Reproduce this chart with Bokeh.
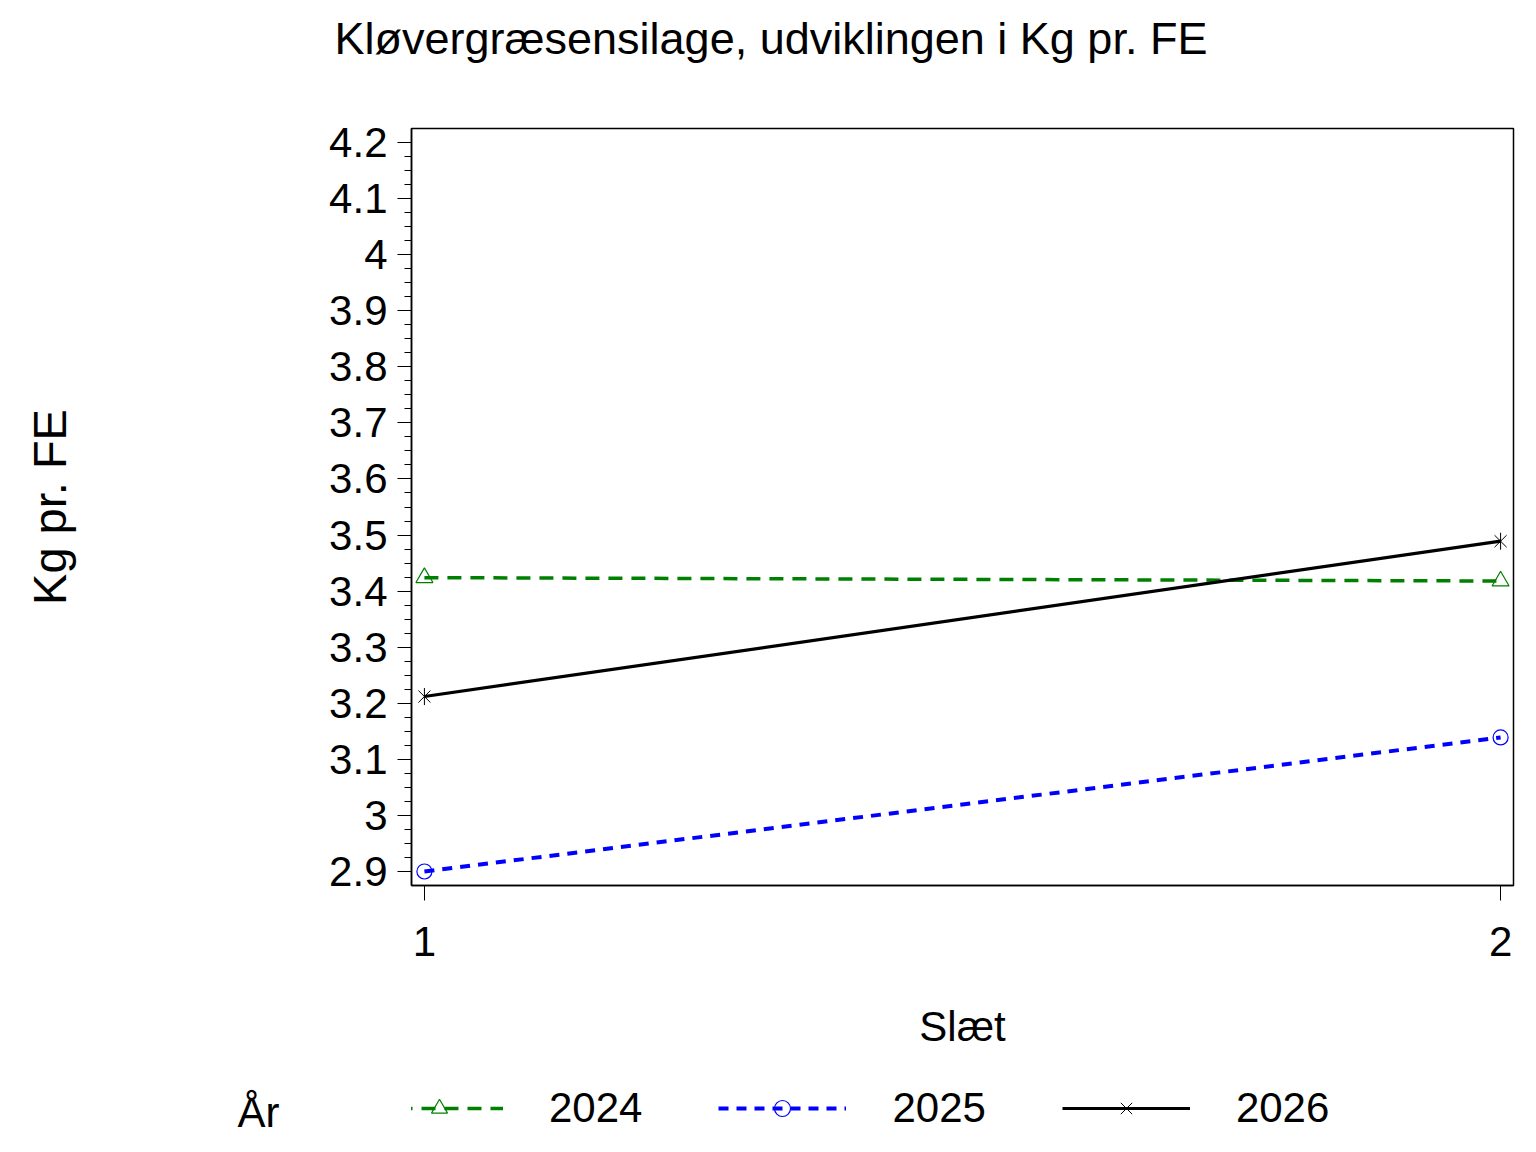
from bokeh.plotting import figure
from bokeh.layouts import column
from bokeh.models import Range1d, FixedTicker, Legend, LegendItem, Title
from bokeh.embed import file_html
from bokeh.resources import INLINE

# ---- data ----
SLAET = [1, 2]
AAR = ["2024", "2025", "2026"]
KG_2024 = [3.424, 3.418]
KG_2025 = [2.900, 3.139]
KG_2026 = [3.212, 3.489]

Y_TICKS = [2.9, 3, 3.1, 3.2, 3.3, 3.4, 3.5, 3.6, 3.7, 3.8, 3.9, 4, 4.1, 4.2]
Y_TICK_LABELS = ["2.9", "3", "3.1", "3.2", "3.3", "3.4", "3.5", "3.6", "3.7",
                 "3.8", "3.9", "4", "4.1", "4.2"]
X_TICKS = [1, 2]
X_TICK_LABELS = ["1", "2"]

TITLE = "Kløvergræsensilage, udviklingen i Kg pr. FE"
X_LABEL = "Slæt"
Y_LABEL = "Kg pr. FE"
LEGEND_TITLE = "År"

FONT = "Liberation Sans"
GREEN = "#008000"
BLUE = "#0000FF"
BLACK = "#000000"

W = 1520
H_MAIN = 1070
H_LEG = 66
FRAME_L, FRAME_R, FRAME_T, FRAME_B = 411, 1513, 128, 885

p = figure(width=W, height=H_MAIN, output_backend="svg", toolbar_location=None,
           title_location=None,
           x_range=Range1d(0.988, 2.012), y_range=Range1d(2.875, 4.225),
           min_border_left=FRAME_L, min_border_right=W - FRAME_R,
           min_border_top=FRAME_T, min_border_bottom=H_MAIN - FRAME_B)
p.grid.visible = False
p.outline_line_color = "black"
p.outline_line_width = 1.5
p.background_fill_color = "white"
p.border_fill_color = "white"

# title: a thin spacer next to the frame, then the real title at the top
p.add_layout(Title(text=" ", text_font_size="1px", standoff=52), "above")
p.add_layout(Title(text=TITLE, text_font=FONT, text_font_size="45px",
                   text_font_style="normal", text_color="black",
                   align="left", offset=-77, standoff=20), "above")

# y axis
minor = []
for i in range(1, 52):
    v = round(2.9 + 0.025 * i, 3)
    if abs(v * 10 - round(v * 10)) > 1e-6:
        minor.append(v)
yax = p.yaxis[0]
yax.ticker = FixedTicker(ticks=Y_TICKS, minor_ticks=minor)
yax.major_label_overrides = dict(zip(Y_TICKS, Y_TICK_LABELS))
yax.major_tick_out = 14
yax.major_tick_in = 0
yax.minor_tick_out = 7
yax.minor_tick_in = 0
yax.major_label_standoff = 10
yax.major_label_text_font = FONT
yax.major_label_text_font_size = "42px"
yax.major_label_text_color = "black"
yax.axis_label = Y_LABEL
yax.axis_label_text_font = FONT
yax.axis_label_text_font_size = "47px"
yax.axis_label_text_font_style = "normal"
yax.axis_label_text_color = "black"
yax.axis_label_standoff = 250
yax.axis_line_width = 1.5
yax.major_tick_line_color = "black"
yax.minor_tick_line_color = "black"

# x axis
xax = p.xaxis[0]
xax.ticker = FixedTicker(ticks=X_TICKS, minor_ticks=[])
xax.major_label_overrides = dict(zip(X_TICKS, X_TICK_LABELS))
xax.major_tick_out = 15
xax.major_tick_in = 0
xax.minor_tick_out = 0
xax.minor_tick_in = 0
xax.major_label_standoff = 26
xax.major_label_text_font = FONT
xax.major_label_text_font_size = "42px"
xax.major_label_text_color = "black"
xax.axis_label = X_LABEL
xax.axis_label_text_font = FONT
xax.axis_label_text_font_size = "42px"
xax.axis_label_text_font_style = "normal"
xax.axis_label_text_color = "black"
xax.axis_label_standoff = 44
xax.axis_line_width = 1.5

STYLE = {
    "2024": dict(color=GREEN, width=3.5, dash="14 9", marker="triangle", size=17),
    "2025": dict(color=BLUE, width=4, dash="10 8", marker="circle", size=15),
    "2026": dict(color=BLACK, width=3.2, dash="solid", marker="x", size=17),
}
SERIES = {"2024": KG_2024, "2025": KG_2025, "2026": KG_2026}


def draw(fig, key):
    st = STYLE[key]
    ys = SERIES[key]
    rs = [fig.line(SLAET, ys, line_color=st["color"], line_width=st["width"],
                   line_dash=st["dash"])]
    rs.append(fig.scatter(SLAET, ys, marker=st["marker"], size=st["size"],
                          fill_color=None, line_color=st["color"],
                          line_width=1.2 if key != "2026" else 1))
    if key == "2026":
        rs.append(fig.scatter(SLAET, ys, marker="dash", size=st["size"],
                              angle=1.5708, line_color=st["color"], line_width=1))
    return rs


for k in AAR:
    draw(p, k)

# ---- legend strip below the plot (same frame columns as the plot) ----
q = figure(width=W, height=H_LEG, output_backend="svg", toolbar_location=None,
           x_range=Range1d(0.988, 2.012), y_range=Range1d(100, 166),
           x_axis_location=None,
           min_border_left=FRAME_L, min_border_right=W - FRAME_R,
           min_border_top=0, min_border_bottom=0)
q.grid.visible = False
q.outline_line_color = None
q.background_fill_color = "white"
q.border_fill_color = "white"

# "År" as the strip's left-hand label
qy = q.yaxis[0]
qy.ticker = FixedTicker(ticks=[124], minor_ticks=[])
qy.major_label_overrides = {124: LEGEND_TITLE}
qy.major_tick_out = 0
qy.major_tick_in = 0
qy.minor_tick_out = 0
qy.minor_tick_in = 0
qy.axis_line_color = None
qy.major_tick_line_color = None
qy.major_label_standoff = FRAME_L - 279
qy.major_label_text_font = FONT
qy.major_label_text_font_size = "42px"
qy.major_label_text_color = "black"

# legend renderers: the same series, falling outside this strip's visible range
items = [LegendItem(label=k, renderers=draw(q, k)) for k in AAR]
legend = Legend(items=items, location=(375 - FRAME_L, 4), orientation="horizontal",
                glyph_width=128, glyph_height=40, label_standoff=46, spacing=76,
                padding=0, margin=0, border_line_color=None,
                background_fill_alpha=0, label_text_font=FONT,
                label_text_font_size="42px", label_text_color="black")
q.add_layout(legend)

layout = column(p, q, spacing=0)
open("out.html", "w").write(file_html(layout, INLINE))
